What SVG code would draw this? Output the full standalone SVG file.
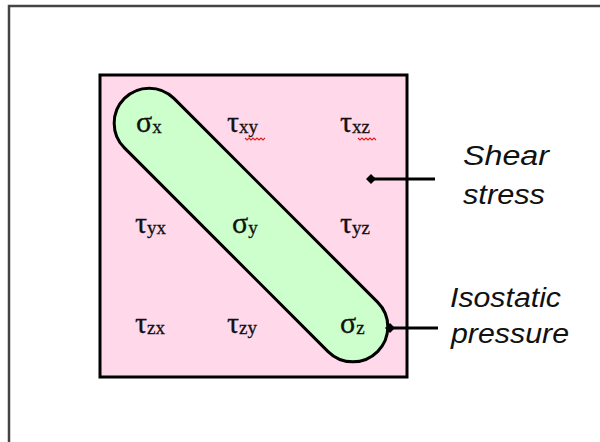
<svg xmlns="http://www.w3.org/2000/svg" width="600" height="442" viewBox="0 0 600 442">
<style>
.g{font-family:"Liberation Serif","Times New Roman",serif;font-size:30px;fill:#111;stroke:#111;stroke-width:0.3}
.s{font-size:19px}
.lab{font-family:"Liberation Sans",Arial,sans-serif;font-style:italic;font-size:27px;fill:#111}
.conn{stroke:#000;stroke-width:3;fill:none}
.sq{stroke:#e02020;stroke-width:1.2;fill:none}
</style>
<rect x="9" y="6" width="620" height="460" fill="#fff" stroke="#444" stroke-width="2.5"/>
<g id="matrix">
<rect x="100" y="75" width="307" height="302" fill="#ffd9ea" stroke="#000" stroke-width="3"/>
</g>
<g id="isostatic-band">
<rect x="72" y="190" width="358" height="70" rx="35" ry="35" transform="rotate(45 251 225)" fill="#ccffcc" stroke="#000" stroke-width="3"/>
</g>
<g id="terms">
<text class="g" x="136" y="132">σ<tspan class="s" dy="1">x</tspan></text>
<text class="g" x="227" y="132">τ<tspan class="s" dy="1">xy</tspan></text>
<text class="g" x="340" y="132">τ<tspan class="s" dy="1">xz</tspan></text>
<text class="g" x="135" y="233">τ<tspan class="s" dy="1">yx</tspan></text>
<text class="g" x="232" y="233">σ<tspan class="s" dy="1">y</tspan></text>
<text class="g" x="340" y="233">τ<tspan class="s" dy="1">yz</tspan></text>
<text class="g" x="135" y="333">τ<tspan class="s" dy="1">zx</tspan></text>
<text class="g" x="227" y="333">τ<tspan class="s" dy="1">zy</tspan></text>
<text class="g" x="340" y="333">σ<tspan class="s" dy="1">z</tspan></text>
<path class="sq" d="M245 138 l2 2 l2 -2 l2 2 l2 -2 l2 2 l2 -2 l2 2 l2 -2 l2 2 l2 -2"/>
<path class="sq" d="M358 138 l2 2 l2 -2 l2 2 l2 -2 l2 2 l2 -2 l2 2 l2 -2 l2 2"/>
</g>
<g id="connectors">
<line class="conn" x1="372" y1="179" x2="435" y2="179"/>
<path d="M366 179 l5 -5 l5 5 l-5 5 z" fill="#000"/>
<line class="conn" x1="390" y1="328" x2="438" y2="328"/>
<path d="M385 328 l5 -5 l5 5 l-5 5 z" fill="#000"/>
</g>
<g id="label-shear">
<text class="lab" x="463" y="165" textLength="86" lengthAdjust="spacingAndGlyphs">Shear</text>
<text class="lab" x="463" y="204" textLength="82" lengthAdjust="spacingAndGlyphs">stress</text>
</g>
<g id="label-isostatic">
<text class="lab" x="450" y="307" textLength="111" lengthAdjust="spacingAndGlyphs">Isostatic</text>
<text class="lab" x="451" y="343" textLength="118" lengthAdjust="spacingAndGlyphs">pressure</text>
</g>
</svg>
